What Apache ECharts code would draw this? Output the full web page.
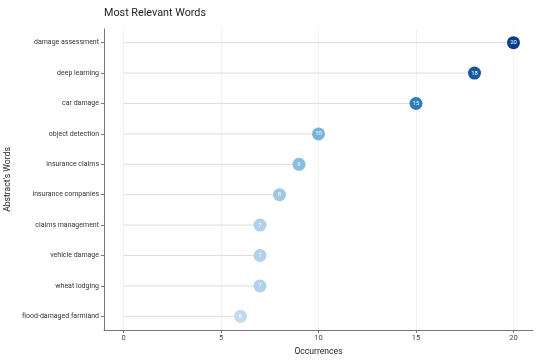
<!DOCTYPE html>
<html>
<head>
<meta charset="utf-8">
<script src="https://cdn.jsdelivr.net/npm/echarts@6/dist/echarts.min.js"></script>
<style>html,body{margin:0;padding:0;background:#fff}#c{width:550px;height:360px}</style>
</head>
<body>
<div id="c"></div>
<script>
var categories = ["damage assessment","deep learning","car damage","object detection","insurance claims","insurance companies","claims management","vehicle damage","wheat lodging","flood-damaged farmland"];
var values = [20, 18, 15, 10, 9, 8, 7, 7, 7, 6];
var xTicks = [0, 5, 10, 15, 20];
var yIdx = categories.map(function(_, i){ return i; });

var font = "Roboto";
var chart = echarts.init(document.getElementById('c'), null, {renderer:'canvas'});
var points = values.map(function(v, i){ return [v, i]; });
chart.setOption({
  animation: false,
  title: {text: "Most Relevant Words", left: 99, top: 3, textStyle:{fontFamily: font, fontSize: 10.8, fontWeight: 'normal', color: '#222'}},
  grid: {left: 104, right: 17, top: 29, bottom: 30, containLabel: false, outerBoundsMode: 'none'},
  visualMap: {show: false, type: 'continuous', seriesIndex: 1, dimension: 0, min: 6, max: 20,
    inRange: {color: ['#c3daee', '#6baed6', '#2878bd', '#0b3c8c']}},
  xAxis: {type: 'value', min: -1, max: 21,
    name: 'Occurrences', nameLocation: 'middle', nameGap: 17, nameMoveOverlap: false,
    nameTextStyle: {fontFamily: font, fontSize: 8.6, color: '#222'},
    axisLine: {show: true, onZero: false, lineStyle: {color: '#777', width: 1}},
    axisTick: {show: true, length: 3, customValues: xTicks, lineStyle: {color: '#777'}},
    axisLabel: {customValues: xTicks, fontFamily: font, fontSize: 7.5, color: '#444', margin: 4},
    splitLine: {show: true, lineStyle: {color: '#eeeeee', width: 0.8}}
  },
  yAxis: {type: 'value', min: -0.45, max: 9.45, inverse: true,
    name: "Abstract's Words", nameLocation: 'middle', nameGap: 92, nameRotate: 90, nameMoveOverlap: false,
    nameTextStyle: {fontFamily: font, fontSize: 8.6, color: '#222'},
    axisLine: {show: true, onZero: false, lineStyle: {color: '#777', width: 1}},
    axisTick: {show: true, length: 3, customValues: yIdx, lineStyle: {color: '#777'}},
    axisLabel: {customValues: yIdx, fontFamily: font, fontSize: 7, color: '#333', margin: 5,
      formatter: function(v){ return categories[Math.round(v)]; }},
    splitLine: {show: false}
  },
  series: [
    {type: 'custom', data: points, z: 1,
      renderItem: function(params, api){
        var a = api.coord([0, api.value(1)]);
        var b = api.coord([api.value(0), api.value(1)]);
        return {type: 'line', shape: {x1: a[0], y1: a[1], x2: b[0], y2: b[1]},
          style: {stroke: '#dddddd', lineWidth: 1}};
      }},
    {type: 'scatter', data: points, symbolSize: 13, z: 3, itemStyle: {opacity: 1},
      label: {show: true, position: 'inside', fontFamily: font, fontSize: 6, color: '#fff',
        formatter: function(p){ return p.value[0]; }}}
  ]
});
</script>
</body>
</html>
